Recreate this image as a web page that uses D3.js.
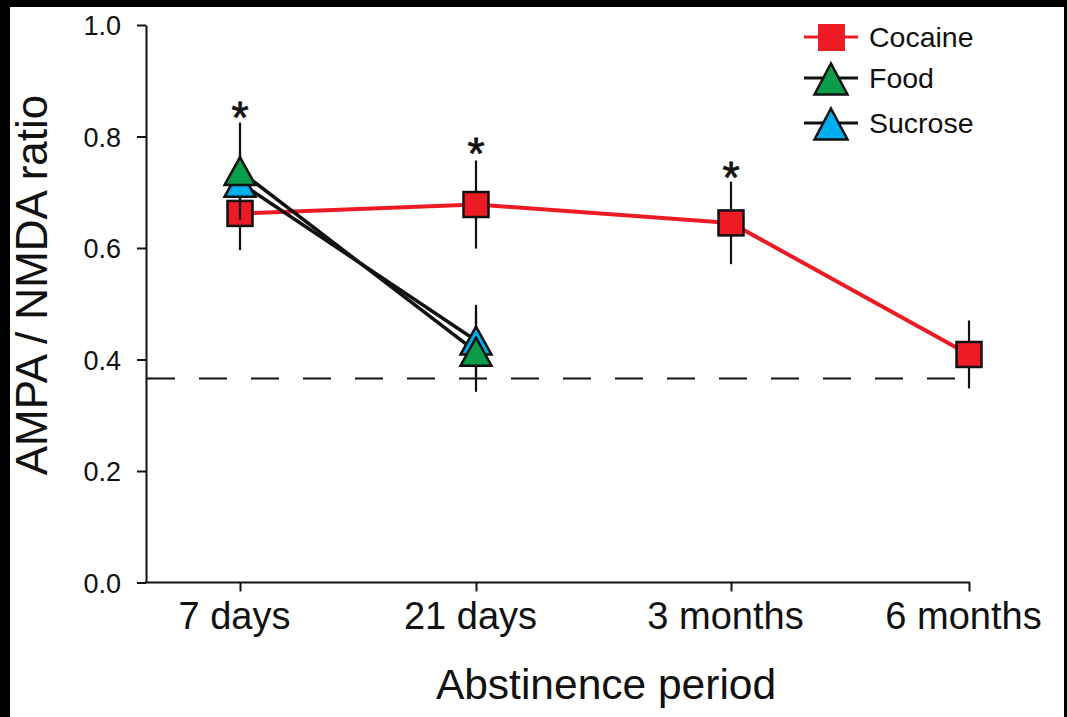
<!DOCTYPE html>
<html><head><meta charset="utf-8">
<script src="https://cdn.jsdelivr.net/npm/d3@7"></script>
<style>html,body{margin:0;padding:0;background:#000;} svg{display:block}</style>
</head><body>
<svg id="chart" width="1067" height="717"></svg>
<script>
// ---- data ----
const categories = ["7 days", "21 days", "3 months", "6 months"];
const yTicks = [0.0, 0.2, 0.4, 0.6, 0.8, 1.0];
const cocaineMean = [0.662, 0.678, 0.645, 0.409];
const cocaineSem = [0.066, 0.079, 0.074, 0.061];
const foodCats = ["7 days", "21 days"];
const foodMean = [0.738, 0.414];
const foodSem = [0.087, 0.072];
const sucroseMean = [0.717, 0.434];
const sucroseSem = [0.055, 0.064];
const baselineValue = 0.366;
const starCats = ["7 days", "21 days", "3 months"];
const starValues = [0.846, 0.781, 0.739];
const legendLabels = ["Cocaine", "Food", "Sucrose"];
const xTitle = "Abstinence period";
const yTitle = "AMPA / NMDA ratio";

// ---- layout ----
const FONT = "'Liberation Sans', Arial, Helvetica, sans-serif";
const RED = "#ed1c24", GREEN = "#0b9c4a", BLUE = "#00aeef";
const svg = d3.select("#chart");
svg.append("rect").attr("x", 10).attr("y", 7).attr("width", 1054).attr("height", 710).attr("fill", "#fff");

const axisX = 146;
const x = d3.scaleOrdinal().domain(categories).range([240, 476, 731, 969]);
const y = d3.scaleLinear().domain([0, 1]).range([582.5, 25]);

// y axis
const gy = svg.append("g").attr("transform", `translate(${axisX},0)`)
  .call(d3.axisLeft(y).tickValues(yTicks).tickFormat(d3.format(".1f")).tickSize(9).tickSizeOuter(0).tickPadding(16));
gy.select(".domain").attr("stroke", "#111").attr("stroke-width", 2);
gy.selectAll(".tick line").attr("stroke", "#111").attr("stroke-width", 2);
gy.selectAll(".tick text").attr("font-family", FONT).attr("font-size", 27).attr("fill", "#111").attr("dy", "0.36em");

// x axis
const gx = svg.append("g").attr("transform", `translate(0,${y(0)})`)
  .call(d3.axisBottom(x).tickSize(9).tickSizeOuter(0).tickPadding(11));
gx.select(".domain").remove();
gx.append("line").attr("x1", axisX - 1).attr("x2", x(categories[categories.length - 1]) + 1)
  .attr("stroke", "#111").attr("stroke-width", 2);
gx.selectAll(".tick line").attr("stroke", "#111").attr("stroke-width", 2);
gx.selectAll(".tick text").attr("font-family", FONT).attr("font-size", 38).attr("fill", "#111").attr("dx", -6);

// titles
svg.append("text").attr("x", 606).attr("y", 699).attr("text-anchor", "middle")
  .attr("font-family", FONT).attr("font-size", 42.5).attr("fill", "#111").text(xTitle);
svg.append("text").attr("transform", "translate(47,285) rotate(-90)").attr("text-anchor", "middle")
  .attr("font-family", FONT).attr("font-size", 44).attr("fill", "#111").text(yTitle);

// dashed baseline
svg.append("line").attr("x1", axisX + 1).attr("x2", x(categories[categories.length - 1]))
  .attr("y1", y(baselineValue)).attr("y2", y(baselineValue))
  .attr("stroke", "#111").attr("stroke-width", 2).attr("stroke-dasharray", "28,24");

const tri = (w, h) => `M0,${-h / 2}L${w / 2},${h / 2}L${-w / 2},${h / 2}Z`;

function errorBars(cats, means, sems) {
  svg.append("g").selectAll("line").data(cats).join("line")
    .attr("x1", (d) => x(d)).attr("x2", (d) => x(d))
    .attr("y1", (d, i) => y(means[i] + sems[i])).attr("y2", (d, i) => y(means[i] - sems[i]))
    .attr("stroke", "#111").attr("stroke-width", 2.2);
}

// cocaine
errorBars(categories, cocaineMean, cocaineSem);
svg.append("path").datum(categories)
  .attr("d", d3.line().x((d) => x(d)).y((d, i) => y(cocaineMean[i])))
  .attr("fill", "none").attr("stroke", RED).attr("stroke-width", 4);
svg.append("g").selectAll("rect").data(categories).join("rect")
  .attr("x", (d) => x(d) - 12.5).attr("y", (d, i) => y(cocaineMean[i]) - 12.5)
  .attr("width", 25).attr("height", 25).attr("fill", RED).attr("stroke", "#111").attr("stroke-width", 2.5);

// food & sucrose
errorBars(foodCats, sucroseMean, sucroseSem);
errorBars(foodCats, foodMean, foodSem);
[[sucroseMean], [foodMean]].forEach(([m]) => {
  svg.append("path").datum(foodCats)
    .attr("d", d3.line().x((d) => x(d)).y((d, i) => y(m[i])))
    .attr("fill", "none").attr("stroke", "#111").attr("stroke-width", 3.5);
});
[[sucroseMean, BLUE], [foodMean, GREEN]].forEach(([m, c]) => {
  svg.append("g").selectAll("path").data(foodCats).join("path")
    .attr("transform", (d, i) => `translate(${x(d)},${y(m[i])})`)
    .attr("d", tri(31, 28)).attr("fill", c).attr("stroke", "#111").attr("stroke-width", 2.5).attr("stroke-linejoin", "miter");
});

// significance stars
svg.append("g").selectAll("text").data(starCats).join("text")
  .attr("x", (d) => x(d)).attr("y", (d, i) => y(starValues[i]) + 22)
  .attr("text-anchor", "middle").attr("font-family", FONT).attr("font-size", 44)
  .attr("fill", "#111").attr("stroke", "#111").attr("stroke-width", 0.8).text("*");

// legend
const legRows = [37, 78, 123];
const lg = svg.append("g");
legendLabels.forEach((lab, i) => {
  const ry = legRows[i];
  lg.append("line").attr("x1", 804).attr("x2", 858).attr("y1", ry).attr("y2", ry)
    .attr("stroke", i === 0 ? RED : "#111").attr("stroke-width", 3);
  if (i === 0) {
    lg.append("rect").attr("x", 818).attr("y", ry - 13).attr("width", 27).attr("height", 27).attr("fill", RED);
  } else {
    lg.append("path").attr("transform", `translate(831,${ry + 1})`).attr("d", tri(33, 31))
      .attr("fill", i === 1 ? GREEN : BLUE).attr("stroke", "#111").attr("stroke-width", 2.5);
  }
  lg.append("text").attr("x", 869).attr("y", ry + 10).attr("font-family", FONT).attr("font-size", 28.5)
    .attr("fill", "#111").text(lab);
});
</script>
</body></html>
